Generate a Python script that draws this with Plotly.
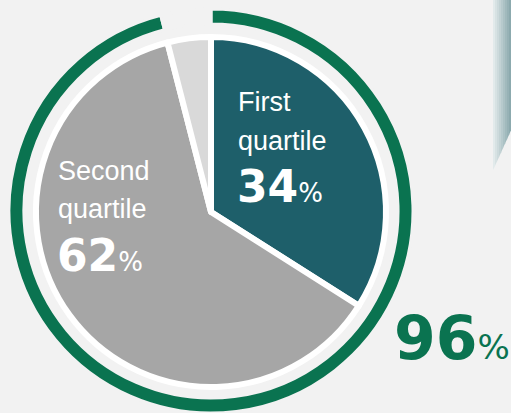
import plotly.graph_objects as go

# ---- data ----
slice_labels = ["First quartile", "Second quartile", "Other"]
slice_values = [34, 62, 4]
slice_colors = ["#1e5f6a", "#a6a6a6", "#d9d9d9"]

ring_labels = ["Top two quartiles", "Rest"]
ring_values = [96, 4]
ring_colors = ["#0a7350", "rgba(0,0,0,0)"]

W, H = 511, 413
BG = "#f2f2f2"


def px(x):
    return x / W


def py(y):
    return 1 - y / H


fig = go.Figure()

# outer progress ring (96%)
fig.add_trace(go.Pie(
    labels=ring_labels, values=ring_values, sort=False, direction="clockwise",
    rotation=0, hole=0.926, textinfo="none", hoverinfo="skip", showlegend=False,
    marker=dict(colors=ring_colors, line=dict(color=BG, width=3)),
    domain=dict(x=[px(211 - 202), px(211 + 202)], y=[0, py(9)]),
))

# main pie
fig.add_trace(go.Pie(
    labels=slice_labels, values=slice_values, sort=False, direction="clockwise",
    rotation=0, textinfo="none", hoverinfo="skip", showlegend=False,
    marker=dict(colors=slice_colors, line=dict(color="white", width=6)),
    domain=dict(x=[px(211 - 175), px(211 + 175)], y=[py(212 + 175), py(212 - 175)]),
))

# decorative gradient pointer at top right
shapes = []
x_start, x_end = 493, 511
n = 9
c0 = (232, 238, 239)
c1 = (135, 166, 171)
for i in range(n):
    xa = x_start + (x_end - x_start) * i / n
    xb = x_start + (x_end - x_start) * (i + 1) / n
    ya = 170 - (xa - 493) * 40 / 18
    yb = 170 - (xb - 493) * 40 / 18
    t = (i + 0.5) / n
    col = "rgb(%d,%d,%d)" % tuple(int(c0[k] + (c1[k] - c0[k]) * t) for k in range(3))
    path = "M %f,%f L %f,%f L %f,%f L %f,%f Z" % (
        px(xa), py(0), px(xb + 0.3), py(0), px(xb + 0.3), py(yb), px(xa), py(ya))
    shapes.append(dict(type="path", xref="paper", yref="paper", path=path,
                       fillcolor=col, line=dict(width=0), layer="below"))

TXT = "Liberation Sans, Arial, sans-serif"
NUM = "DejaVu Sans, Verdana, sans-serif"

annotations = []


def add_text(text, x, y, size, color="white", family=TXT):
    annotations.append(dict(
        text=text, x=px(x), y=py(y), xref="paper", yref="paper",
        xanchor="left", yanchor="middle", showarrow=False,
        font=dict(family=family, size=size, color=color)))


add_text("First", 236, 102, 27)
add_text("quartile", 236, 141, 27)
add_text("<b>%d</b><span style='font-size:26px'>%%</span>" % slice_values[0], 235, 186, 44, family=NUM)

add_text("Second", 56, 171, 27)
add_text("quartile", 56, 209, 27)
add_text("<b>%d</b><span style='font-size:26px'>%%</span>" % slice_values[1], 55, 255, 44, family=NUM)

add_text("<b>%d</b><span style='font-size:34px'>%%</span>" % ring_values[0], 392, 338, 60,
         color="#0a7350", family=NUM)

fig.update_layout(
    width=W, height=H, margin=dict(l=0, r=0, t=0, b=0),
    paper_bgcolor=BG, plot_bgcolor=BG,
    shapes=shapes, annotations=annotations,
)

fig.write_html(
    "out.html",
    config={"displayModeBar": False},
    post_script="document.body.style.margin='0';document.body.style.background='%s';" % BG,
)
